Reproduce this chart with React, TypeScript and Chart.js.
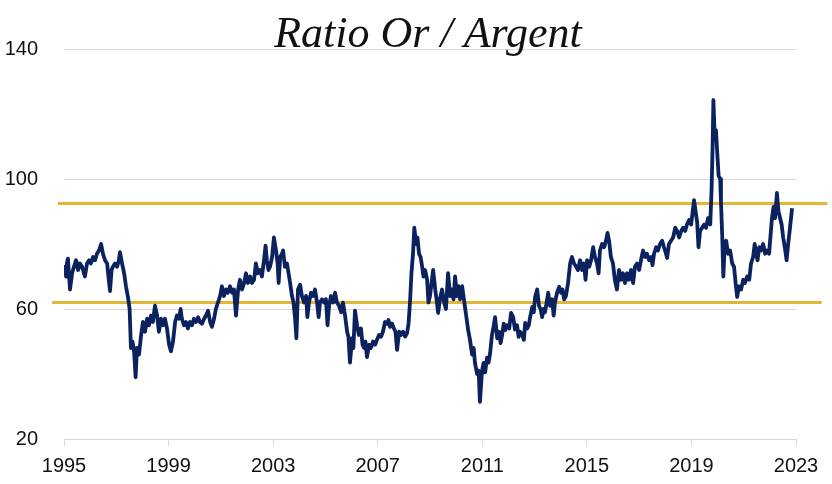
import React, { useEffect, useRef } from "react";
import { Chart, registerables } from "chart.js";

Chart.register(...registerables);

const TITLE = "Ratio Or / Argent";
const X_TICKS = [1995, 1999, 2003, 2007, 2011, 2015, 2019, 2023];
const Y_TICKS = [20, 60, 100, 140];
const UPPER_BAND = 92.5;
const LOWER_BAND = 62;
const UPPER_SPAN = [1994.77, 2024.2];
const LOWER_SPAN = [1994.55, 2023.98];

// [decimal year, gold/silver ratio]
const RATIO: [number, number][] = [
  [1995.0, 71], [1995.04, 73], [1995.08, 70], [1995.11, 74], [1995.15, 75.5], [1995.23, 66], [1995.31, 71], [1995.38, 73], [1995.46, 75], [1995.54, 72], [1995.61, 74], [1995.69, 73], [1995.8, 70], [1995.88, 74], [1995.96, 75],
  [1996.03, 74], [1996.11, 76], [1996.19, 75], [1996.26, 77], [1996.34, 78], [1996.42, 80], [1996.49, 77], [1996.57, 75], [1996.65, 74], [1996.7, 70], [1996.76, 65.5], [1996.82, 72], [1996.87, 73], [1996.95, 74],
  [1997.03, 73], [1997.1, 75], [1997.14, 77.5], [1997.22, 74], [1997.3, 71], [1997.37, 67], [1997.45, 63.5], [1997.51, 60], [1997.56, 48], [1997.62, 50], [1997.68, 47], [1997.74, 39], [1997.79, 48], [1997.87, 46], [1997.95, 52],
  [1998.02, 56], [1998.1, 53], [1998.18, 57], [1998.25, 55], [1998.33, 58], [1998.4, 56], [1998.48, 61], [1998.56, 58], [1998.63, 53], [1998.71, 57], [1998.79, 55], [1998.86, 57], [1998.94, 54],
  [1999.02, 49], [1999.09, 47], [1999.17, 50], [1999.25, 56], [1999.32, 58], [1999.4, 57], [1999.46, 60], [1999.51, 57], [1999.59, 55], [1999.67, 56], [1999.74, 54], [1999.82, 56], [1999.9, 55], [1999.97, 57],
  [2000.05, 56], [2000.13, 57.5], [2000.2, 56], [2000.28, 55.5], [2000.36, 57], [2000.43, 58], [2000.51, 59.5], [2000.59, 56], [2000.66, 54.5], [2000.74, 57], [2000.81, 60], [2000.89, 62], [2000.97, 64],
  [2001.04, 67], [2001.12, 64], [2001.2, 66], [2001.27, 65], [2001.35, 67], [2001.43, 65], [2001.5, 66], [2001.58, 58], [2001.66, 66], [2001.73, 69], [2001.81, 66], [2001.89, 68], [2001.96, 71],
  [2002.04, 68], [2002.12, 70], [2002.19, 68], [2002.27, 69], [2002.34, 74], [2002.42, 71], [2002.5, 72], [2002.57, 70], [2002.65, 75], [2002.71, 79.5], [2002.76, 75], [2002.82, 72], [2002.88, 73], [2002.96, 76],
  [2003.03, 82], [2003.11, 78], [2003.17, 74], [2003.21, 68], [2003.27, 76], [2003.34, 77], [2003.38, 78], [2003.45, 73], [2003.53, 74], [2003.59, 71], [2003.65, 68], [2003.72, 64], [2003.78, 62], [2003.84, 57], [2003.89, 51], [2003.95, 66],
  [2004.03, 67.5], [2004.1, 64], [2004.18, 62], [2004.26, 64], [2004.31, 57.5], [2004.37, 62], [2004.45, 65], [2004.53, 64], [2004.6, 66], [2004.68, 62], [2004.74, 57.5], [2004.79, 62], [2004.87, 63], [2004.95, 62],
  [2005.02, 63], [2005.08, 55], [2005.14, 61], [2005.21, 64], [2005.29, 62], [2005.37, 65], [2005.44, 62], [2005.52, 61], [2005.6, 59], [2005.67, 62], [2005.75, 58], [2005.83, 53], [2005.88, 51.5], [2005.94, 43.5],
  [2006.02, 51], [2006.07, 48], [2006.13, 59.5], [2006.21, 55], [2006.28, 52], [2006.36, 54], [2006.42, 49], [2006.48, 48], [2006.53, 50], [2006.59, 45.2], [2006.67, 49], [2006.74, 48], [2006.82, 50], [2006.9, 49], [2006.97, 50.5],
  [2007.05, 52], [2007.13, 51.5], [2007.2, 53], [2007.28, 56], [2007.36, 55.5], [2007.41, 56.6], [2007.47, 54.5], [2007.55, 55.5], [2007.62, 54], [2007.68, 53], [2007.74, 47.4], [2007.82, 53], [2007.89, 52], [2007.97, 53],
  [2008.05, 51.5], [2008.12, 52.5], [2008.18, 55.5], [2008.24, 62.8], [2008.29, 71], [2008.35, 77], [2008.4, 85], [2008.47, 80], [2008.52, 82], [2008.58, 77], [2008.64, 76], [2008.7, 73], [2008.75, 70], [2008.81, 72], [2008.89, 69], [2008.94, 62],
  [2009.0, 64], [2009.06, 68], [2009.12, 72], [2009.2, 66], [2009.25, 63], [2009.31, 58.8], [2009.38, 63], [2009.46, 66], [2009.54, 62], [2009.61, 60], [2009.69, 71], [2009.77, 64], [2009.84, 66], [2009.9, 63], [2009.96, 70],
  [2010.03, 64], [2010.09, 67], [2010.15, 63], [2010.23, 67], [2010.28, 64], [2010.34, 60.5], [2010.4, 57], [2010.46, 53.5], [2010.53, 50.5], [2010.61, 46], [2010.67, 48], [2010.72, 43.4], [2010.8, 40], [2010.86, 41], [2010.91, 31.4], [2010.99, 41],
  [2011.05, 43.4], [2011.11, 40.5], [2011.18, 45], [2011.24, 43.5], [2011.3, 46.5], [2011.37, 52], [2011.43, 54.5], [2011.49, 57.5], [2011.57, 51], [2011.64, 53], [2011.7, 49.5], [2011.76, 52], [2011.82, 55.5], [2011.88, 53.5], [2011.95, 55],
  [2012.03, 54], [2012.1, 58.8], [2012.18, 57.5], [2012.25, 53.7], [2012.33, 55], [2012.39, 51.4], [2012.45, 53], [2012.53, 52], [2012.59, 50.5], [2012.64, 55.7], [2012.72, 54], [2012.78, 55], [2012.83, 57.5], [2012.91, 60.6], [2012.97, 59],
  [2013.02, 63.7], [2013.1, 66], [2013.17, 61], [2013.23, 60], [2013.29, 57.5], [2013.34, 60], [2013.4, 59], [2013.46, 62], [2013.52, 65], [2013.59, 61], [2013.67, 63], [2013.73, 58], [2013.78, 62], [2013.86, 65], [2013.94, 66.8],
  [2014.01, 65], [2014.07, 66], [2014.13, 63], [2014.2, 64], [2014.28, 68], [2014.36, 74], [2014.43, 76], [2014.51, 74], [2014.59, 73], [2014.66, 72], [2014.74, 75], [2014.82, 72], [2014.89, 74], [2014.95, 69],
  [2015.01, 75], [2015.09, 73], [2015.16, 75], [2015.24, 79], [2015.31, 76], [2015.39, 74], [2015.45, 71], [2015.5, 78], [2015.58, 80], [2015.66, 79], [2015.73, 81], [2015.79, 83.4], [2015.85, 81], [2015.92, 76],
  [2016.0, 74], [2016.07, 69], [2016.15, 66], [2016.23, 72], [2016.31, 69], [2016.38, 71], [2016.46, 68], [2016.54, 71], [2016.61, 69], [2016.69, 72], [2016.77, 68], [2016.84, 73], [2016.92, 74],
  [2017.0, 72], [2017.07, 75], [2017.15, 78], [2017.23, 76], [2017.3, 77], [2017.38, 75], [2017.46, 76], [2017.51, 73.5], [2017.57, 77], [2017.65, 79], [2017.72, 78], [2017.8, 80], [2017.88, 81], [2017.95, 79],
  [2018.01, 77.5], [2018.07, 75.7], [2018.14, 80], [2018.22, 81], [2018.3, 82], [2018.38, 85], [2018.45, 84], [2018.53, 82], [2018.61, 84], [2018.68, 85], [2018.76, 84], [2018.83, 86], [2018.91, 87.4], [2018.99, 86],
  [2019.04, 89.5], [2019.1, 93.5], [2019.16, 90], [2019.22, 86.6], [2019.27, 79], [2019.33, 84], [2019.41, 85], [2019.49, 86], [2019.56, 85], [2019.64, 88], [2019.72, 86], [2019.77, 96.6], [2019.81, 110], [2019.84, 124.3], [2019.89, 113], [2019.94, 115], [2019.98, 109],
  [2020.04, 101], [2020.1, 100], [2020.13, 93], [2020.18, 82], [2020.22, 70], [2020.27, 79], [2020.33, 81], [2020.4, 77], [2020.48, 78], [2020.56, 74], [2020.63, 73], [2020.69, 68], [2020.75, 63.7], [2020.82, 67], [2020.9, 66], [2020.98, 69],
  [2021.05, 68], [2021.13, 70], [2021.21, 69], [2021.28, 74], [2021.36, 76], [2021.42, 80], [2021.47, 77], [2021.53, 75], [2021.59, 79], [2021.66, 78], [2021.74, 80], [2021.82, 77], [2021.89, 78], [2021.97, 77],
  [2022.03, 83], [2022.08, 88], [2022.14, 91.4], [2022.2, 88], [2022.27, 95.7], [2022.33, 90], [2022.39, 88], [2022.45, 86], [2022.51, 82], [2022.59, 78], [2022.64, 75], [2022.7, 80], [2022.77, 85], [2022.81, 88], [2022.85, 91],
];

const NAVY = "#0b225f";
const GOLD = "#e2b737";
const GRID = "#d9d9d9";

const titlePlugin = {
  id: "overlayTitle",
  afterDraw(chart: any) {
    const ctx = chart.ctx;
    ctx.save();
    ctx.font = "italic 44px 'Liberation Serif', 'Times New Roman', serif";
    ctx.fillStyle = "#111";
    ctx.textAlign = "center";
    ctx.textBaseline = "alphabetic";
    ctx.fillText(TITLE, 428, 47);
    ctx.restore();
  },
};

export default function App() {
  const ref = useRef<HTMLCanvasElement | null>(null);

  useEffect(() => {
    if (!ref.current) return;
    const chart = new Chart(ref.current, {
      type: "line",
      data: {
        datasets: [
          {
            label: "Ratio",
            data: RATIO.map(([x, y]) => ({ x, y })),
            borderColor: NAVY,
            backgroundColor: NAVY,
            borderWidth: 3.8,
            pointRadius: 0,
            tension: 0,
            borderJoinStyle: "round",
            order: 0,
          },
          {
            label: "Haut",
            data: UPPER_SPAN.map((x) => ({ x, y: UPPER_BAND })),
            borderColor: GOLD,
            borderWidth: 3,
            pointRadius: 0,
            clip: false as any,
            order: 1,
          },
          {
            label: "Bas",
            data: LOWER_SPAN.map((x) => ({ x, y: LOWER_BAND })),
            borderColor: GOLD,
            borderWidth: 3,
            pointRadius: 0,
            clip: false as any,
            order: 1,
          },
        ],
      },
      plugins: [titlePlugin],
      options: {
        animation: false,
        responsive: false,
        layout: { padding: { left: 5, right: 36, top: 49, bottom: 5 } },
        plugins: {
          legend: { display: false },
          tooltip: { enabled: false },
          title: { display: false },
        },
        scales: {
          x: {
            type: "linear",
            min: X_TICKS[0],
            max: X_TICKS[X_TICKS.length - 1],
            afterBuildTicks: (axis: any) => {
              axis.ticks = X_TICKS.map((v) => ({ value: v }));
            },
            afterFit: (axis: any) => {
              axis.height = 40;
            },
            border: { display: false },
            grid: { display: true, drawOnChartArea: false, drawTicks: true, tickLength: 7, color: GRID },
            ticks: {
              color: "#111",
              font: { family: "'Liberation Sans', Arial, sans-serif", size: 20 },
              padding: 8,
              maxRotation: 0,
              callback: (v: any) => String(v),
            },
          },
          y: {
            min: Y_TICKS[0],
            max: Y_TICKS[Y_TICKS.length - 1],
            afterBuildTicks: (axis: any) => {
              axis.ticks = Y_TICKS.map((v) => ({ value: v }));
            },
            afterFit: (axis: any) => {
              axis.width = 59;
            },
            border: { display: false },
            grid: { color: GRID, drawTicks: false },
            ticks: {
              color: "#111",
              font: { family: "'Liberation Sans', Arial, sans-serif", size: 20 },
              padding: 26,
              callback: (v: any) => String(v),
            },
          },
        },
      },
    });
    return () => chart.destroy();
  }, []);

  return (
    <div style={{ position: "fixed", left: 0, top: 0, width: 832, height: 484, background: "#fff" }}>
      <canvas ref={ref} width={832} height={484} />
    </div>
  );
}
